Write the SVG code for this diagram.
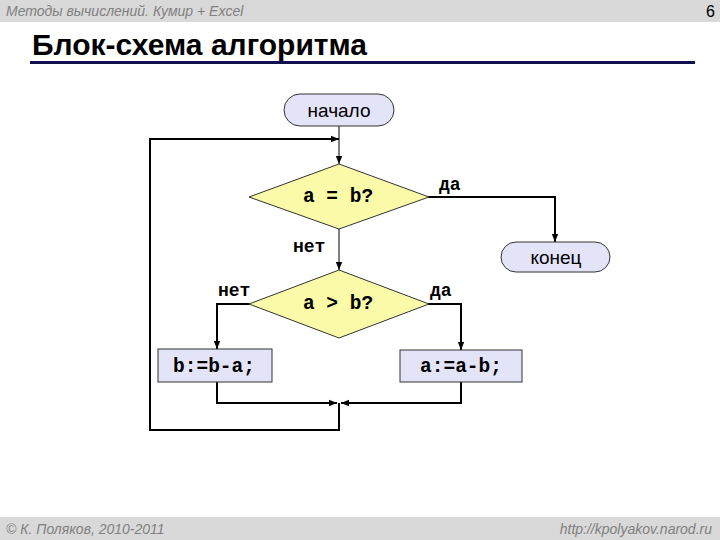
<svg xmlns="http://www.w3.org/2000/svg" width="720" height="540" viewBox="0 0 720 540">
<style>
.hdr{font-family:"Liberation Sans",Arial,sans-serif;font-style:italic;font-size:14px;fill:#808080}
.term{fill:#e4e4f8;stroke:#333;stroke-width:1}
.dia{fill:#fafaa8;stroke:#333;stroke-width:1}
.box{fill:#e4e4f8;stroke:#333;stroke-width:1}
.sans{font-family:"Liberation Sans",Arial,sans-serif;font-size:19px;fill:#000;text-anchor:middle}
.mono{font-family:"Liberation Mono","Courier New",monospace;font-weight:bold;font-size:19.5px;fill:#000;text-anchor:middle}
.lbl{font-family:"Liberation Mono","Courier New",monospace;font-weight:bold;font-size:18px;fill:#000}
.ln{fill:none;stroke:#000;stroke-width:2}
.thin{fill:none;stroke:#000;stroke-width:1}
</style>
<defs>
<marker id="ah2" viewBox="0 0 10 10" refX="10" refY="5" markerWidth="8" markerHeight="8" markerUnits="userSpaceOnUse" orient="auto"><path d="M0,1L10,5L0,9z" fill="#000"/></marker>
</defs>
<rect x="0" y="0" width="720" height="540" fill="#fff"/>
<rect x="0" y="0" width="720" height="22" fill="#d9d9d9"/>
<text class="hdr" x="6" y="16">Методы вычислений. Кумир + Excel</text>
<text x="715" y="17" font-family="Liberation Sans,Arial,sans-serif" font-size="16" fill="#000" text-anchor="end">6</text>
<text x="32" y="55" font-family="Liberation Sans,Arial,sans-serif" font-weight="bold" font-size="30" fill="#000">Блок-схема алгоритма</text>
<rect x="30" y="61" width="665" height="3" fill="#101050"/>
<rect x="0" y="517" width="720" height="23" fill="#d9d9d9"/>
<text class="hdr" x="6" y="534">© К. Поляков, 2010-2011</text>
<text class="hdr" x="712" y="534" text-anchor="end">http://kpolyakov.narod.ru</text>

<g id="connectors">
<line class="thin" x1="339" y1="126" x2="339" y2="164" marker-end="url(#ah2)"/>
<polyline class="ln" points="428,197 555,197 555,242" marker-end="url(#ah2)"/>
<line class="thin" x1="339" y1="228" x2="339" y2="270" marker-end="url(#ah2)"/>
<polyline class="ln" points="249,304 217,304 217,349" marker-end="url(#ah2)"/>
<polyline class="ln" points="428,304 461,304 461,350" marker-end="url(#ah2)"/>
<polyline class="ln" points="217,382 217,403 337,403" marker-end="url(#ah2)"/>
<polyline class="ln" points="461,382 461,403 341,403" marker-end="url(#ah2)"/>
<polyline class="ln" points="339,403 339,430 150,430 150,139 339,139" marker-end="url(#ah2)"/>
<text class="lbl" x="439" y="190">да</text>
<text class="lbl" x="293" y="252">нет</text>
<text class="lbl" x="218" y="296">нет</text>
<text class="lbl" x="430" y="296">да</text>
</g>

<g id="start">
<rect class="term" x="284" y="94" width="110" height="32" rx="16"/>
<text class="sans" x="339" y="117">начало</text>
</g>
<g id="cond1">
<polygon class="dia" points="339,164 429,197 339,229 249,197"/>
<text class="mono" x="338" y="202">a = b?</text>
</g>
<g id="end">
<rect class="term" x="501" y="242" width="109" height="30" rx="15"/>
<text class="sans" x="556" y="264">конец</text>
</g>
<g id="cond2">
<polygon class="dia" points="339,270 429,304 339,338 249,304"/>
<text class="mono" x="338" y="309">a &gt; b?</text>
</g>
<g id="stepB">
<rect class="box" x="158" y="349" width="114" height="33"/>
<text class="mono" x="214" y="372">b:=b-a;</text>
</g>
<g id="stepA">
<rect class="box" x="400" y="350" width="122" height="32"/>
<text class="mono" x="461" y="372">a:=a-b;</text>
</g>
</svg>
